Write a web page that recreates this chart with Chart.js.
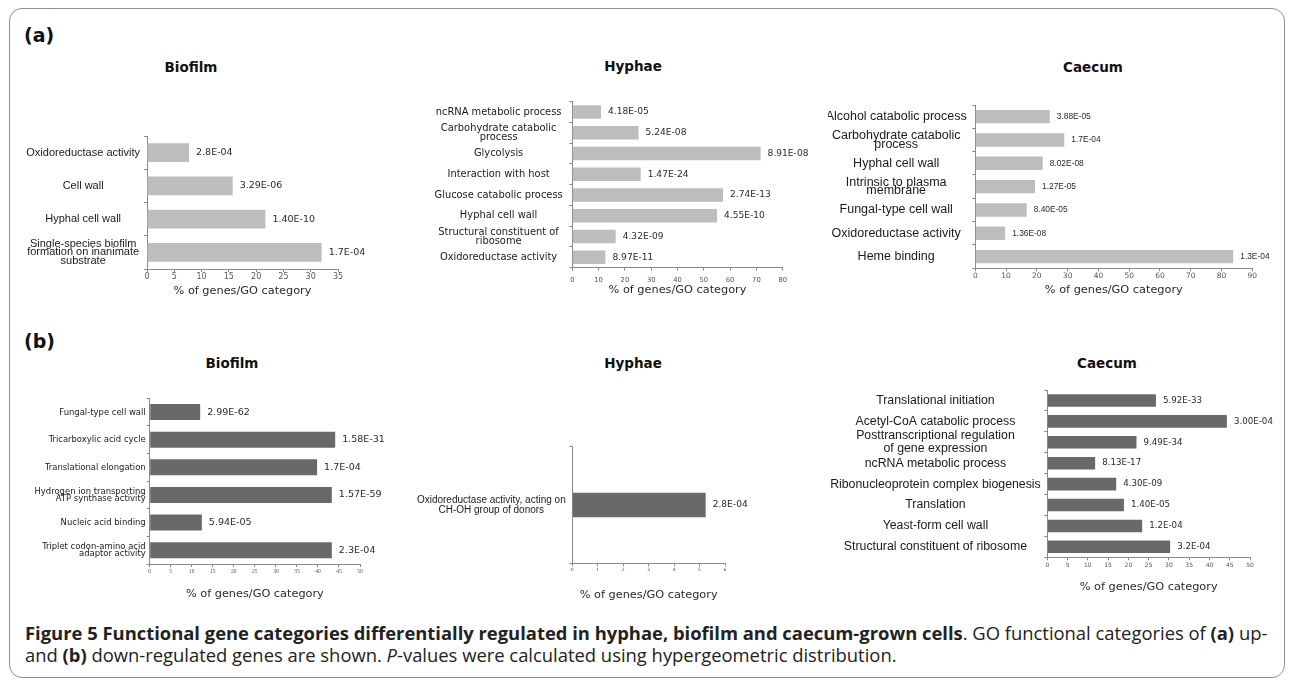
<!DOCTYPE html>
<html><head><meta charset="utf-8">
<script src="https://cdn.jsdelivr.net/npm/chart.js@4.4.1/dist/chart.umd.min.js"></script>
<style>
html,body{margin:0;padding:0;background:#fff;}
body{width:1292px;height:683px;position:relative;overflow:hidden;font-family:'DejaVu Sans',sans-serif;}
#frame{position:absolute;left:9px;top:8px;width:1276px;height:670px;border:1.3px solid #8e8e8e;border-radius:13px;box-sizing:border-box;}
.tag{position:absolute;font:bold 19px 'DejaVu Sans';color:#111;transform:translateY(-50%);}
.ptitle{position:absolute;font:bold 13.5px 'DejaVu Sans';color:#111;transform:translate(-50%,-50%);white-space:nowrap;}
canvas{position:absolute;}
#caption{position:absolute;left:25px;top:622px;font-family:'Open Sans',sans-serif;color:#222;white-space:nowrap;line-height:22px;font-size:15px;}
#caption b{font-weight:bold;}
</style></head><body>
<div id="frame"></div>
<div class="tag" style="left:24px;top:35px">(a)</div>
<div class="tag" style="left:24px;top:341px">(b)</div>
<div class="ptitle" style="left:191px;top:67px">Biofilm</div>
<div class="ptitle" style="left:633px;top:66px">Hyphae</div>
<div class="ptitle" style="left:1093px;top:67px">Caecum</div>
<div class="ptitle" style="left:232px;top:363px">Biofilm</div>
<div class="ptitle" style="left:633px;top:363px">Hyphae</div>
<div class="ptitle" style="left:1107px;top:363px">Caecum</div>
<div id="caption"><span id="cap1"><b>Figure 5 Functional gene categories differentially regulated in hyphae, biofilm and caecum-grown cells</b>. GO functional categories of <b>(a)</b> up-</span><br>and <b>(b)</b> down-regulated genes are shown. <i>P</i>-values were calculated using hypergeometric distribution.</div>
<script>
// ---------- DATA ----------
// (a) up-regulated
const upBiofilmCategories = ["Oxidoreductase activity", "Cell wall", "Hyphal cell wall", ["Single-species biofilm", "formation on inanimate", "substrate"]];
const upBiofilmValues = [7.7, 15.7, 21.7, 32.0];
const upBiofilmPvalues = ["2.8E-04", "3.29E-06", "1.40E-10", "1.7E-04"];

const upHyphaeCategories = ["ncRNA metabolic process", ["Carbohydrate catabolic", "process"], "Glycolysis", "Interaction with host", "Glucose catabolic process", "Hyphal cell wall", ["Structural constituent of", "ribosome"], "Oxidoreductase activity"];
const upHyphaeValues = [10.9, 25.2, 71.6, 26.0, 57.3, 55.0, 16.5, 12.6];
const upHyphaePvalues = ["4.18E-05", "5.24E-08", "8.91E-08", "1.47E-24", "2.74E-13", "4.55E-10", "4.32E-09", "8.97E-11"];

const upCaecumCategories = ["Alcohol catabolic process", ["Carbohydrate catabolic", "process"], "Hyphal cell wall", ["Intrinsic to plasma", "membrane"], "Fungal-type cell wall", "Oxidoreductase activity", "Heme binding"];
const upCaecumValues = [24.2, 28.9, 21.9, 19.4, 16.7, 9.7, 83.8];
const upCaecumPvalues = ["3.88E-05", "1.7E-04", "8.02E-08", "1.27E-05", "8.40E-05", "1.36E-08", "1.3E-04"];

// (b) down-regulated
const downBiofilmCategories = ["Fungal-type cell wall", "Tricarboxylic acid cycle", "Translational elongation", ["Hydrogen ion transporting", "ATP synthase activity"], "Nucleic acid binding", ["Triplet codon-amino acid", "adaptor activity"]];
const downBiofilmValues = [12.0, 44.1, 39.8, 43.3, 12.4, 43.3];
const downBiofilmPvalues = ["2.99E-62", "1.58E-31", "1.7E-04", "1.57E-59", "5.94E-05", "2.3E-04"];

const downHyphaeCategories = [["Oxidoreductase activity, acting on", "CH-OH group of donors"]];
const downHyphaeValues = [5.24];
const downHyphaePvalues = ["2.8E-04"];

const downCaecumCategories = ["Translational initiation", "Acetyl-CoA catabolic process", ["Posttranscriptional regulation", "of gene expression"], "ncRNA metabolic process", "Ribonucleoprotein complex biogenesis", "Translation", "Yeast-form cell wall", "Structural constituent of ribosome"];
const downCaecumValues = [26.8, 44.3, 22.0, 11.8, 17.0, 18.9, 23.4, 30.3];
const downCaecumPvalues = ["5.92E-33", "3.00E-04", "9.49E-34", "8.13E-17", "4.30E-09", "1.40E-05", "1.2E-04", "3.2E-04"];

// x-axis ranges [max, step]
const axisUpBiofilm = [35, 5], axisUpHyphae = [80, 10], axisUpCaecum = [90, 10];
const axisDownBiofilm = [50, 5], axisDownHyphae = [6, 1], axisDownCaecum = [50, 5];
const xAxisTitle = "% of genes/GO category";

// ---------- RENDER ----------
const LIGHT = '#bdbdbf', DARK = '#69696b', AXIS = '#8a8a8a';
const NARROW = "'Liberation Sans Narrow', 'DejaVu Sans Condensed', sans-serif";

function panel(cfg) {
  const [cl, ct, cr, cb] = cfg.rect;
  const [pl, pt, pr, pb] = cfg.plot;
  const cv = document.createElement('canvas');
  cv.width = cr - cl; cv.height = cb - ct;
  cv.style.left = cl + 'px'; cv.style.top = ct + 'px';
  document.body.appendChild(cv);
  const tickLen = 3;
  const tickLH = cfg.tickFont.size * 1.2;
  const xPad = Math.max(0, cfg.tickY - tickLH / 2 - pb - tickLen);
  const titleSize = 11.3, titleLH = titleSize * 1.2;
  const titlePadBottom = cb - cfg.titleY - titleLH / 2;
  const pv = {
    id: 'pv',
    afterDatasetsDraw(chart) {
      const ctx = chart.ctx;
      const meta = chart.getDatasetMeta(0);
      ctx.save();
      ctx.font = cfg.pvalFont;
      ctx.fillStyle = '#2a2a2a';
      ctx.textBaseline = 'middle';
      ctx.textAlign = 'left';
      meta.data.forEach((bar, i) => ctx.fillText(cfg.pvals[i], bar.x + 7, bar.y));
      ctx.restore();
    }
  };
  new Chart(cv, {
    type: 'bar',
    data: { labels: cfg.labels, datasets: [{ data: cfg.values, backgroundColor: cfg.color, borderWidth: 0, barPercentage: cfg.bar, categoryPercentage: 1 }] },
    options: {
      indexAxis: 'y', responsive: false, animation: false,
      layout: { padding: { left: 0, top: pt - ct, right: cr - pr, bottom: 0 } },
      plugins: { legend: { display: false }, tooltip: { enabled: false }, title: { display: false } },
      scales: {
        x: {
          min: 0, max: cfg.axis[0],
          ticks: { stepSize: cfg.axis[1], font: cfg.tickFont, color: '#555', padding: xPad, maxRotation: 0, autoSkip: false },
          grid: { drawOnChartArea: false, drawTicks: true, tickLength: tickLen, color: AXIS },
          border: { color: AXIS, width: 1 },
          title: { display: true, text: xAxisTitle, font: { family: 'DejaVu Sans', size: titleSize, lineHeight: 1.2 }, color: '#2a2a2a', padding: { top: 0, bottom: titlePadBottom } },
          afterFit(s) { s.height = cb - pb; }
        },
        y: {
          ticks: { font: cfg.labelFont, color: '#1a1a1a', padding: cfg.labelPad, crossAlign: cfg.align, autoSkip: false },
          grid: { drawOnChartArea: false, drawTicks: true, tickLength: tickLen, color: AXIS, offset: true },
          border: { color: AXIS, width: 1 },
          afterFit(s) { s.width = pl - cl; }
        }
      }
    },
    plugins: [pv]
  });
}

panel({ rect: [25, 116, 400, 300], plot: [147, 136, 338, 269], axis: axisUpBiofilm,
  labels: upBiofilmCategories, values: upBiofilmValues, pvals: upBiofilmPvalues,
  tickFont: { family: 'DejaVu Sans', size: 8 }, tickY: 277, titleY: 290.7,
  labelFont: { family: 'Liberation Sans', size: 11, lineHeight: 0.78 }, labelPad: 4, align: 'center',
  bar: 0.57, color: LIGHT, pvalFont: "9.5px 'DejaVu Sans'" });

panel({ rect: [420, 82, 828, 300], plot: [572.3, 101.7, 782.7, 267.7], axis: axisUpHyphae,
  labels: upHyphaeCategories, values: upHyphaeValues, pvals: upHyphaePvalues,
  tickFont: { family: 'DejaVu Sans', size: 6.8 }, tickY: 280, titleY: 290,
  labelFont: { family: 'DejaVu Sans', size: 9.9, lineHeight: 0.88 }, labelPad: 6.6, align: 'center',
  bar: 0.65, color: LIGHT, pvalFont: "9.1px 'DejaVu Sans'" });

panel({ rect: [828, 85, 1283, 300], plot: [975.3, 105, 1252.3, 268.3], axis: axisUpCaecum,
  labels: upCaecumCategories, values: upCaecumValues, pvals: upCaecumPvalues,
  tickFont: { family: 'DejaVu Sans', size: 7.5 }, tickY: 275.7, titleY: 290,
  labelFont: { family: 'Liberation Sans', size: 12.5, lineHeight: 0.68 }, labelPad: 5.6, align: 'center',
  bar: 0.575, color: LIGHT, pvalFont: "8.4px 'Liberation Sans'" });

panel({ rect: [20, 378, 420, 605], plot: [149.7, 398.3, 360, 564], axis: axisDownBiofilm,
  labels: downBiofilmCategories, values: downBiofilmValues, pvals: downBiofilmPvalues,
  tickFont: { family: 'Liberation Serif', size: 5.5 }, tickY: 571.7, titleY: 594,
  labelFont: { family: NARROW, size: 9.4, lineHeight: 0.82 }, labelPad: 1, align: 'near',
  bar: 0.58, color: DARK, pvalFont: "9.5px 'DejaVu Sans'" });

panel({ rect: [410, 420, 828, 605], plot: [572.3, 446.7, 725, 563.3], axis: axisDownHyphae,
  labels: downHyphaeCategories, values: downHyphaeValues, pvals: downHyphaePvalues,
  tickFont: { family: 'DejaVu Sans', size: 4.5 }, tickY: 570, titleY: 595,
  labelFont: { family: 'Liberation Sans', size: 10, lineHeight: 1.0 }, labelPad: 3.6, align: 'center',
  bar: 0.21, color: DARK, pvalFont: "9.1px 'DejaVu Sans'" });

panel({ rect: [830, 370, 1284, 605], plot: [1047.3, 390, 1250, 557.3], axis: axisDownCaecum,
  labels: downCaecumCategories, values: downCaecumValues, pvals: downCaecumPvalues,
  tickFont: { family: 'DejaVu Sans', size: 6 }, tickY: 565.7, titleY: 586.7,
  labelFont: { family: 'Liberation Sans', size: 12.3, lineHeight: 1.08 }, labelPad: 3.6, align: 'center',
  bar: 0.6, color: DARK, pvalFont: "8.7px 'DejaVu Sans'" });

// fit caption line 1 to the reference width
(function () {
  const cap = document.getElementById('caption');
  const w = document.getElementById('cap1').getBoundingClientRect().width;
  cap.style.fontSize = (15 * 1243 / w) + 'px';
})();
</script>
</body></html>
